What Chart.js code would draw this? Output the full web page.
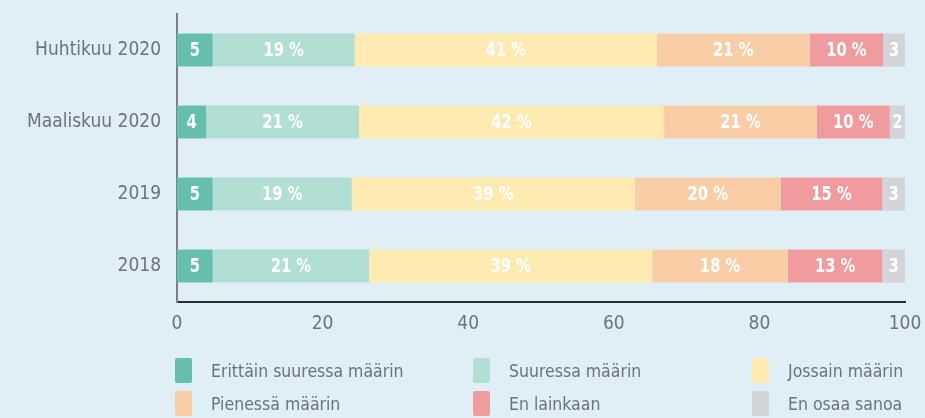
<!DOCTYPE html>
<html lang="fi">
<head>
  <meta charset="UTF-8">
  <title>Kysely</title>
  <script src="https://cdn.jsdelivr.net/npm/chart.js"></script>
  <style>
    html, body { margin: 0; padding: 0; background: #e0eef6; }
    #wrap { position: relative; width: 925px; height: 418px; }
    #legend { position: absolute; left: 175px; top: 358px; width: 740px;
      display: grid; grid-template-columns: 298px 279px 170px; row-gap: 8px;
      font-family: 'DejaVu Sans Condensed', sans-serif; font-size: 17.5px; color: #6c737a; }
    .item { display: flex; align-items: center; height: 25px; }
    .box { width: 17px; height: 25px; margin-right: 19px; border-radius: 2px; }
  </style>
</head>
<body>
  <div id="wrap">
    <canvas id="chart" width="925" height="418"></canvas>
    <div id="legend"></div>
  </div>

  <script>
    const periods = ['Huhtikuu 2020', 'Maaliskuu 2020', '2019', '2018'];
    const seriesNames = ['Erittäin suuressa määrin', 'Suuressa määrin', 'Jossain määrin',
                         'Pienessä määrin', 'En lainkaan', 'En osaa sanoa'];
    const colors = ['#66bfad', '#b1dfd4', '#ffebb2', '#f9cea6', '#f09c9e', '#d2d4d7'];

    // segment widths
    const veryMuch  = [4.9, 4.0, 4.9, 4.9];
    const much      = [19.5, 21.0, 19.1, 21.5];
    const somewhat  = [41.5, 41.9, 38.9, 38.9];
    const little    = [21.0, 21.0, 20.0, 18.6];
    const notAtAll  = [10.1, 10.0, 14.0, 13.0];
    const dontKnow  = [3.0, 2.1, 3.1, 3.1];

    // printed labels
    const lblVeryMuch = ['5', '4', '5', '5'];
    const lblMuch     = ['19 %', '21 %', '19 %', '21 %'];
    const lblSomewhat = ['41 %', '42 %', '39 %', '39 %'];
    const lblLittle   = ['21 %', '21 %', '20 %', '18 %'];
    const lblNotAtAll = ['10 %', '10 %', '15 %', '13 %'];
    const lblDontKnow = ['3', '2', '3', '3'];

    const xTicks = [0, 20, 40, 60, 80, 100];

    const values = [veryMuch, much, somewhat, little, notAtAll, dontKnow];
    const labels = [lblVeryMuch, lblMuch, lblSomewhat, lblLittle, lblNotAtAll, lblDontKnow];

    const datasets = seriesNames.map((name, i) => ({
      label: name,
      data: values[i],
      barLabels: labels[i],
      backgroundColor: colors[i],
      borderWidth: 0,
      barPercentage: 0.46,
      categoryPercentage: 1
    }));

    // white labels inside each segment, squeezed a bit to look condensed
    const segmentLabels = {
      id: 'segmentLabels',
      afterDatasetsDraw(chart) {
        const ctx = chart.ctx;
        chart.data.datasets.forEach((ds, i) => {
          chart.getDatasetMeta(i).data.forEach((bar, j) => {
            const cx = (bar.base + bar.x) / 2;
            ctx.save();
            ctx.translate(cx, bar.y + 1);
            ctx.scale(0.82, 1);
            ctx.fillStyle = '#ffffff';
            ctx.font = 'bold 20px "DejaVu Sans Condensed", sans-serif';
            ctx.textAlign = 'center';
            ctx.textBaseline = 'middle';
            ctx.fillText(ds.barLabels[j], 0, 0);
            ctx.restore();
          });
        });
      }
    };

    const tickFont = { family: "'DejaVu Sans Condensed', sans-serif", size: 19 };

    new Chart(document.getElementById('chart'), {
      type: 'bar',
      data: { labels: periods, datasets: datasets },
      options: {
        indexAxis: 'y',
        responsive: false,
        animation: false,
        layout: { padding: { top: 14, right: 20, bottom: 74, left: 0 } },
        plugins: { legend: { display: false }, tooltip: { enabled: false } },
        scales: {
          x: {
            stacked: true, min: 0, max: 100,
            afterBuildTicks: axis => { axis.ticks = xTicks.map(v => ({ value: v })); },
            afterFit: axis => { axis.height = 42; axis.paddingLeft = 0; axis.paddingRight = 0; },
            grid: { display: false, drawTicks: false },
            border: { display: true, color: '#2a2e31', width: 2 },
            ticks: { color: '#6c737a', font: tickFont, padding: 11 }
          },
          y: {
            stacked: true,
            afterFit: axis => { axis.width = 177; axis.paddingTop = 0; axis.paddingBottom = 0; },
            grid: { display: false, drawTicks: false },
            border: { display: true, color: '#7b8187', width: 2 },
            ticks: { color: '#6c737a', font: tickFont, padding: 16 }
          }
        }
      },
      plugins: [segmentLabels]
    });

    const legend = document.getElementById('legend');
    seriesNames.forEach((name, i) => {
      const item = document.createElement('div');
      item.className = 'item';
      item.innerHTML = '<span class="box" style="background:' + colors[i] + '"></span>' + name;
      legend.appendChild(item);
    });
  </script>
</body>
</html>
